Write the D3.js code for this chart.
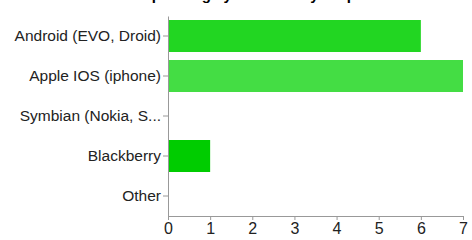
<!DOCTYPE html>
<html>
<head>
<meta charset="utf-8">
<script src="https://cdn.jsdelivr.net/npm/d3@7"></script>
<style>
  body { margin: 0; background: #fff; }
  text { font-family: Arial, "Liberation Sans", Helvetica, sans-serif; }
</style>
</head>
<body>
<div id="chart"></div>
<script>
// 数据
const title = "Which mobile operating system does your phone use?";
const categories = ["Android (EVO, Droid)", "Apple IOS (iphone)", "Symbian (Nokia, S...", "Blackberry", "Other"];
const values = [6, 7, 0, 1, 0];
const barColors = ["#22d622", "#44dd44", "#33d433", "#00cc00", "#22d622"];
const xTicks = [0, 1, 2, 3, 4, 5, 6, 7];

const width = 472, height = 240;
const margin = { top: 16, right: 9, bottom: 24, left: 168 };

const svg = d3.select("#chart").append("svg")
  .attr("width", width)
  .attr("height", height);

// 标题（只露出下沿）
svg.append("text")
  .attr("x", width / 2)
  .attr("y", -0.5)
  .attr("text-anchor", "middle")
  .attr("font-size", "15px")
  .attr("font-weight", "bold")
  .attr("fill", "#000")
  .text(title);

const x = d3.scaleLinear()
  .domain([0, 7])
  .range([margin.left, width - margin.right]);

const y = d3.scaleBand()
  .domain(categories)
  .range([margin.top, height - margin.bottom])
  .paddingInner(0.2)
  .paddingOuter(0.1);

// 条形
svg.selectAll(".bar")
  .data(categories.map((c, i) => ({ name: c, value: values[i], color: barColors[i] })))
  .enter()
  .append("rect")
  .attr("class", "bar")
  .attr("x", x(0))
  .attr("y", d => y(d.name))
  .attr("width", d => x(d.value) - x(0))
  .attr("height", y.bandwidth())
  .attr("fill", d => d.color);

// y 轴
const yAxis = svg.append("g")
  .attr("transform", `translate(${x(0)},0)`)
  .call(d3.axisLeft(y).tickSize(5).tickSizeOuter(0).tickPadding(2));
yAxis.select(".domain").attr("stroke", "#999");
yAxis.selectAll(".tick line").attr("stroke", "#999");
yAxis.selectAll(".tick text")
  .attr("font-size", "15.5px")
  .attr("fill", "#222")
  .style("font-family", "Arial, 'Liberation Sans', sans-serif");

// x 轴
const xAxis = svg.append("g")
  .attr("transform", `translate(0,${height - margin.bottom})`)
  .call(d3.axisBottom(x).tickValues(xTicks).tickFormat(d3.format("d"))
    .tickSize(4).tickSizeOuter(0).tickPadding(3));
xAxis.select(".domain").attr("stroke", "#999");
xAxis.selectAll(".tick line").attr("stroke", "#999");
xAxis.selectAll(".tick text")
  .attr("font-size", "16px")
  .attr("fill", "#222")
  .style("font-family", "Arial, 'Liberation Sans', sans-serif");
</script>
</body>
</html>
